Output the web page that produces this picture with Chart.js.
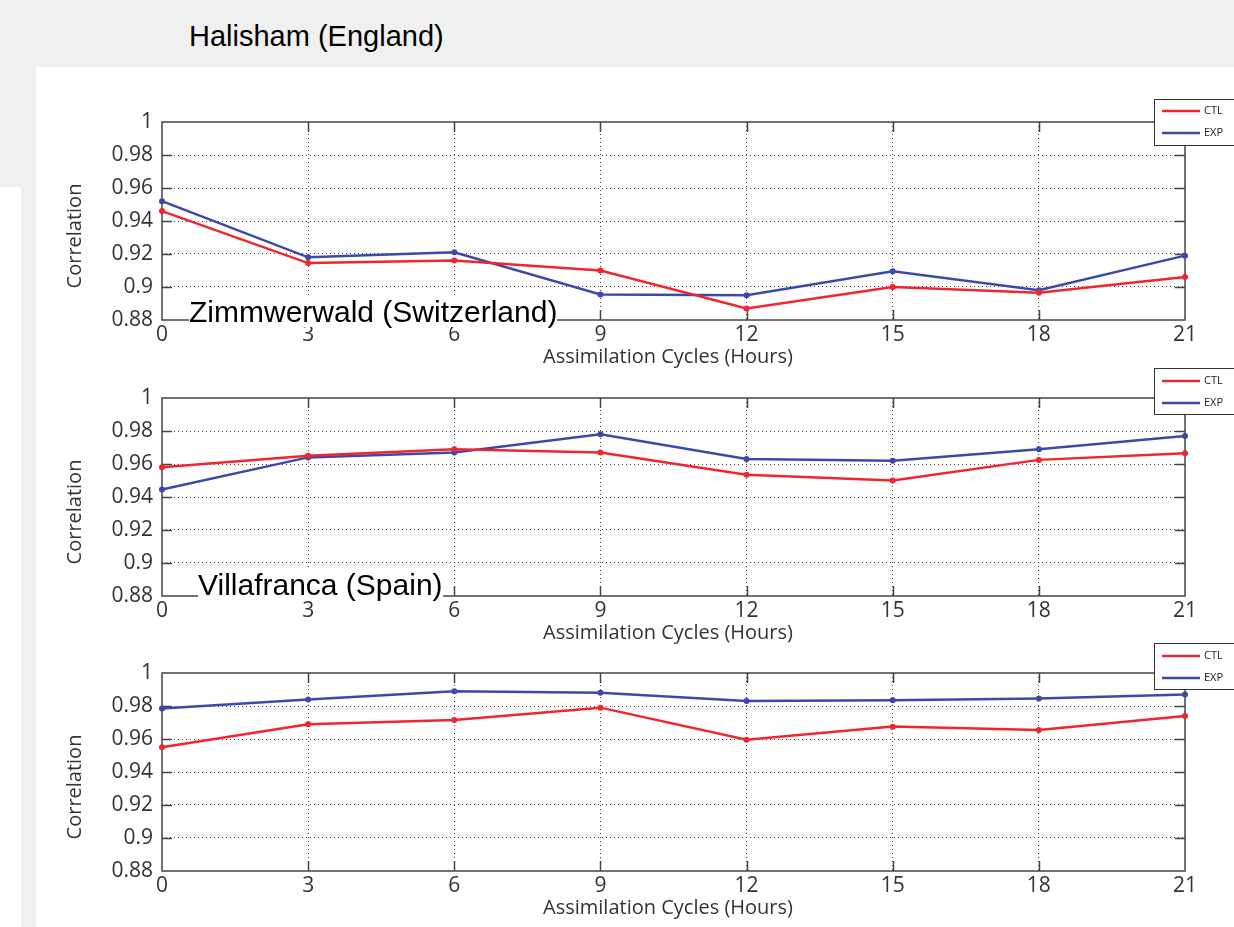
<!DOCTYPE html>
<html>
<head>
<meta charset="utf-8">
<script src="https://cdn.jsdelivr.net/npm/chart.js@4.4.0/dist/chart.umd.min.js"></script>
<style>
    body { margin: 0; background: #f0f0f0; width: 1234px; height: 927px; overflow: hidden; position: relative; }
    #hoja { position: absolute; left: 36px; top: 67px; width: 1198px; height: 860px; background: #fff; }
    #tira { position: absolute; left: 0; top: 187px; width: 21px; height: 740px; background: #fff; }
    canvas { position: absolute; left: 0; }
    .titulo { position: absolute; font-family: "Liberation Sans", Arial, sans-serif; font-size: 30px; line-height: 30px; color: #000; z-index: 5; white-space: nowrap; }
    .fondo { background: #fff; }
</style>
</head>
<body>
<div id="hoja"></div>
<div id="tira"></div>
<canvas id="panel1" width="1234" height="298"></canvas>
<canvas id="panel2" width="1234" height="298"></canvas>
<canvas id="panel3" width="1234" height="298"></canvas>
<div class="titulo" id="titulo1" style="left:189px;top:22px;font-size:29px;line-height:29px"></div>
<div class="titulo fondo" id="titulo2" style="left:189px;top:297px"></div>
<div class="titulo fondo" id="titulo3" style="left:198px;top:570px"></div>
<script>
// Horas de los ciclos de asimilación (eje x)
var horas = ['0', '3', '6', '9', '12', '15', '18', '21'];

// Marcas del eje y
var yTicks = [0.88, 0.9, 0.92, 0.94, 0.96, 0.98, 1];
var yEtiquetas = ['0.88', '0.9', '0.92', '0.94', '0.96', '0.98', '1'];

var estaciones = ['Halisham (England)', 'Zimmwerwald (Switzerland)', 'Villafranca (Spain)'];
var series = ['CTL', 'EXP'];
var ejeY = 'Correlation';
var ejeX = 'Assimilation Cycles (Hours)';

// Correlaciones
var ctlHalisham = [0.946, 0.9145, 0.916, 0.910, 0.887, 0.900, 0.8965, 0.906];
var expHalisham = [0.952, 0.918, 0.921, 0.8955, 0.895, 0.9095, 0.898, 0.919];
var ctlZimm = [0.958, 0.965, 0.969, 0.967, 0.9535, 0.950, 0.9625, 0.9665];
var expZimm = [0.9445, 0.964, 0.967, 0.978, 0.963, 0.962, 0.969, 0.977];
var ctlVilla = [0.955, 0.969, 0.9715, 0.979, 0.9595, 0.9675, 0.9655, 0.974];
var expVilla = [0.9785, 0.984, 0.989, 0.988, 0.983, 0.9835, 0.9845, 0.987];

var rojo = '#ef2530';
var azul = '#3b4aa8';
var gris = '#444';

// Caja estilo MATLAB, marcas interiores, títulos de ejes y leyenda
var marcoMatlab = {
    id: 'marcoMatlab',
    beforeDatasetsDraw: function(chart) {
        var ctx = chart.ctx;
        var a = chart.chartArea;
        var sx = chart.scales.x, sy = chart.scales.y;
        ctx.save();
        ctx.strokeStyle = gris;
        ctx.lineWidth = 1.5;
        ctx.strokeRect(a.left, a.top, a.right - a.left, a.bottom - a.top);
        ctx.beginPath();
        for (var i = 1; i < horas.length - 1; i++) {
            var px = Math.round(sx.getPixelForValue(i)) + 0.5;
            ctx.moveTo(px, a.bottom); ctx.lineTo(px, a.bottom - 10);
            ctx.moveTo(px, a.top); ctx.lineTo(px, a.top + 10);
        }
        for (var j = 1; j < yTicks.length - 1; j++) {
            var py = Math.round(sy.getPixelForValue(yTicks[j])) + 0.5;
            ctx.moveTo(a.left, py); ctx.lineTo(a.left + 10, py);
            ctx.moveTo(a.right, py); ctx.lineTo(a.right - 10, py);
        }
        ctx.stroke();
        ctx.restore();
    },
    afterDraw: function(chart, args, opts) {
        var ctx = chart.ctx;
        var a = chart.chartArea;
        ctx.save();
        // títulos de ejes
        ctx.fillStyle = '#333';
        ctx.font = '20px "Open Sans"';
        ctx.textAlign = 'center';
        ctx.textBaseline = 'middle';
        ctx.fillText(ejeX, 668, a.bottom + 37);
        ctx.translate(75, (a.top + a.bottom) / 2 + 15);
        ctx.rotate(-Math.PI / 2);
        ctx.fillText(ejeY, 0, 0);
        ctx.restore();

        // leyenda
        var ly = a.top + opts.dy;
        ctx.save();
        ctx.fillStyle = '#fff';
        ctx.fillRect(1154.5, ly + 0.5, 90, opts.alto);
        ctx.strokeStyle = '#333';
        ctx.lineWidth = 1;
        ctx.strokeRect(1154.5, ly + 0.5, 90, opts.alto);
        ctx.font = '11px "Open Sans"';
        ctx.textAlign = 'left';
        ctx.textBaseline = 'middle';
        chart.data.datasets.forEach(function(ds, k) {
            var yy = ly + opts.primera + k * opts.paso;
            ctx.strokeStyle = ds.borderColor;
            ctx.lineWidth = 2.5;
            ctx.beginPath();
            ctx.moveTo(1162, yy); ctx.lineTo(1200, yy);
            ctx.stroke();
            ctx.fillStyle = '#222';
            ctx.fillText(ds.label, 1204, yy);
        });
        ctx.restore();
    }
};

function crearPanel(id, arriba, ctl, exp, leyenda) {
    var lienzo = document.getElementById(id);
    lienzo.style.top = (arriba - 40) + 'px';
    var ctx = lienzo.getContext('2d');
    var ultimo = horas.length - 1;

    return new Chart(ctx, {
        type: 'line',
        data: {
            labels: horas,
            datasets: [{
                label: series[0],
                data: ctl,
                borderColor: rojo,
                backgroundColor: rojo,
                borderWidth: 2.5,
                pointRadius: 3,
                pointBorderWidth: 0,
                tension: 0,
                clip: 6
            }, {
                label: series[1],
                data: exp,
                borderColor: azul,
                backgroundColor: azul,
                borderWidth: 2.5,
                pointRadius: 3,
                pointBorderWidth: 0,
                tension: 0,
                clip: 6
            }]
        },
        options: {
            responsive: false,
            animation: false,
            devicePixelRatio: 1,
            layout: { padding: { left: 66, right: 49, top: 40, bottom: 0 } },
            plugins: {
                legend: { display: false },
                tooltip: { enabled: false },
                marcoMatlab: leyenda
            },
            scales: {
                x: {
                    type: 'category',
                    offset: false,
                    grid: {
                        color: function(c) { return (c.index === 0 || c.index === ultimo) ? 'rgba(0,0,0,0)' : gris; },
                        lineWidth: 1,
                        drawTicks: false
                    },
                    border: { display: false, dash: [1, 3] },
                    ticks: {
                        padding: 2,
                        color: '#333',
                        font: { family: 'Open Sans', size: 21 },
                        maxRotation: 0,
                        autoSkip: false
                    },
                    afterFit: function(s) { s.height = 60; }
                },
                y: {
                    min: 0.88,
                    max: 1,
                    afterBuildTicks: function(s) {
                        s.ticks = yTicks.map(function(v) { return { value: v }; });
                    },
                    grid: {
                        color: function(c) {
                            var v = c.tick ? c.tick.value : 0;
                            return (v === yTicks[0] || v === yTicks[yTicks.length - 1]) ? 'rgba(0,0,0,0)' : gris;
                        },
                        lineWidth: 1,
                        drawTicks: false
                    },
                    border: { display: false, dash: [1, 3] },
                    ticks: {
                        padding: 9,
                        color: '#333',
                        font: { family: 'Open Sans', size: 21 },
                        callback: function(v, i) { return yEtiquetas[i]; }
                    },
                    afterFit: function(s) { s.width = 96; }
                }
            }
        },
        plugins: [marcoMatlab]
    });
}

document.addEventListener('DOMContentLoaded', function() {
    document.getElementById('titulo1').textContent = estaciones[0];
    document.getElementById('titulo2').textContent = estaciones[1];
    document.getElementById('titulo3').textContent = estaciones[2];

    crearPanel('panel1', 122, ctlHalisham, expHalisham, { dy: -23, alto: 46, primera: 12, paso: 22 });
    crearPanel('panel2', 398, ctlZimm, expZimm, { dy: -30, alto: 46, primera: 13, paso: 22 });
    crearPanel('panel3', 673, ctlVilla, expVilla, { dy: -30, alto: 46, primera: 13, paso: 22 });
});
</script>
</body>
</html>
